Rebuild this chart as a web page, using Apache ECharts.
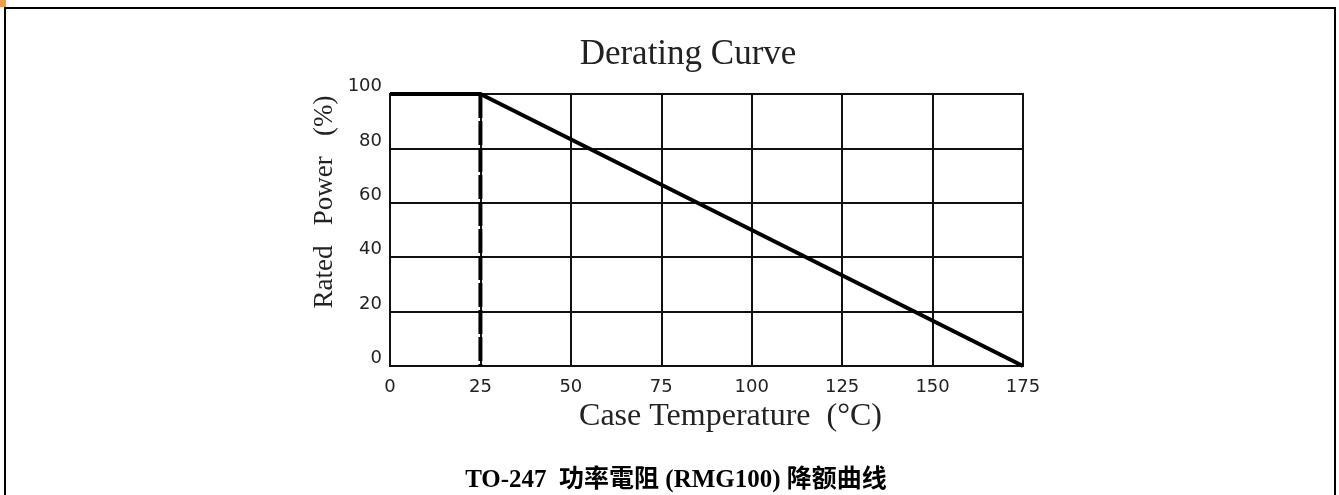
<!DOCTYPE html>
<html>
<head>
<meta charset="utf-8">
<script src="https://cdn.jsdelivr.net/npm/echarts@6/dist/echarts.min.js"></script>
<style>
html,body{margin:0;padding:0;background:#fff;}
#chart{width:1339px;height:495px;}
</style>
</head>
<body>
<div id="chart"></div>
<script>
// Data
const caseTempC = [0, 25, 175];
const ratedPowerPct = [100, 100, 0];
const markerTempC = [25, 25];
const markerPowerPct = [100, 0];
const xTickLabels = ['0', '25', '50', '75', '100', '125', '150', '175'];
const yTickLabels = ['0', '20', '40', '60', '80', '100'];
const chartTitle = 'Derating Curve';
const xAxisName = 'Case Temperature  (°C)';
const yAxisName = 'Rated   Power   (%)';
const caption = 'TO-247  功率電阻 (RMG100) 降额曲线';

const curve = caseTempC.map((t, i) => [t, ratedPowerPct[i]]);
const marker = markerTempC.map((t, i) => [t, markerPowerPct[i]]);

const chart = echarts.init(document.getElementById('chart'));
const tickFont = '"DejaVu Sans", sans-serif';
const serif = '"Liberation Serif", "DejaVu Serif", serif';

chart.setOption({
  animation: false,
  backgroundColor: '#ffffff',
  title: [
    {
      text: chartTitle,
      left: 683, top: 32, textAlign: 'center',
      textStyle: {fontFamily: serif, fontSize: 35, fontWeight: 'normal', color: '#222'}
    },
    {
      text: caption,
      left: 671, top: 463, textAlign: 'center',
      textStyle: {fontFamily: '"Liberation Serif", "Noto Sans CJK SC", serif', fontSize: 25, fontWeight: 'bold', color: '#000'}
    }
  ],
  graphic: [
    {type: 'rect', shape: {x: 5, y: 8, width: 1330, height: 520}, style: {fill: 'none', stroke: '#000', lineWidth: 2}, silent: true},
    {type: 'rect', shape: {x: 0, y: 0, width: 6, height: 7}, style: {fill: '#f39a45'}, silent: true}
  ],
  grid: {
    left: 390, top: 94, right: 316, bottom: 129,
    show: true, borderColor: '#111', borderWidth: 2
  },
  xAxis: {
    type: 'value', min: 0, max: 175, interval: 25,
    name: xAxisName, nameLocation: 'middle', nameGap: 33,
    nameTextStyle: {fontFamily: serif, fontSize: 32, color: '#222', padding: [0, 0, 0, 48]},
    axisLine: {show: true, lineStyle: {color: '#111', width: 2}},
    axisTick: {show: false},
    axisLabel: {
      margin: 12, fontFamily: tickFont, fontSize: 18, color: '#222',
      formatter: (v) => xTickLabels[Math.round(v / 25)] ?? ''
    },
    splitLine: {show: true, lineStyle: {color: '#111', width: 2}}
  },
  yAxis: {
    type: 'value', min: 0, max: 100, interval: 20,
    name: yAxisName, nameLocation: 'middle', nameGap: 52, nameRotate: 90,
    nameTextStyle: {fontFamily: serif, fontSize: 27, color: '#222', padding: [0, 0, 0, 56]},
    axisLine: {show: true, lineStyle: {color: '#111', width: 2}},
    axisTick: {show: false},
    axisLabel: {
      margin: 8, fontFamily: tickFont, fontSize: 18, color: '#222',
      verticalAlign: 'bottom', lineHeight: 15,
      formatter: (v) => yTickLabels[Math.round(v / 20)] ?? ''
    },
    splitLine: {show: true, lineStyle: {color: '#111', width: 2}}
  },
  series: [
    {
      type: 'line', data: marker, symbol: 'none', z: 3,
      lineStyle: {color: '#000', width: 4, type: [24, 3]}
    },
    {
      type: 'line', data: curve, symbol: 'none', z: 4,
      lineStyle: {color: '#000', width: 4}
    }
  ]
});
</script>
</body>
</html>
